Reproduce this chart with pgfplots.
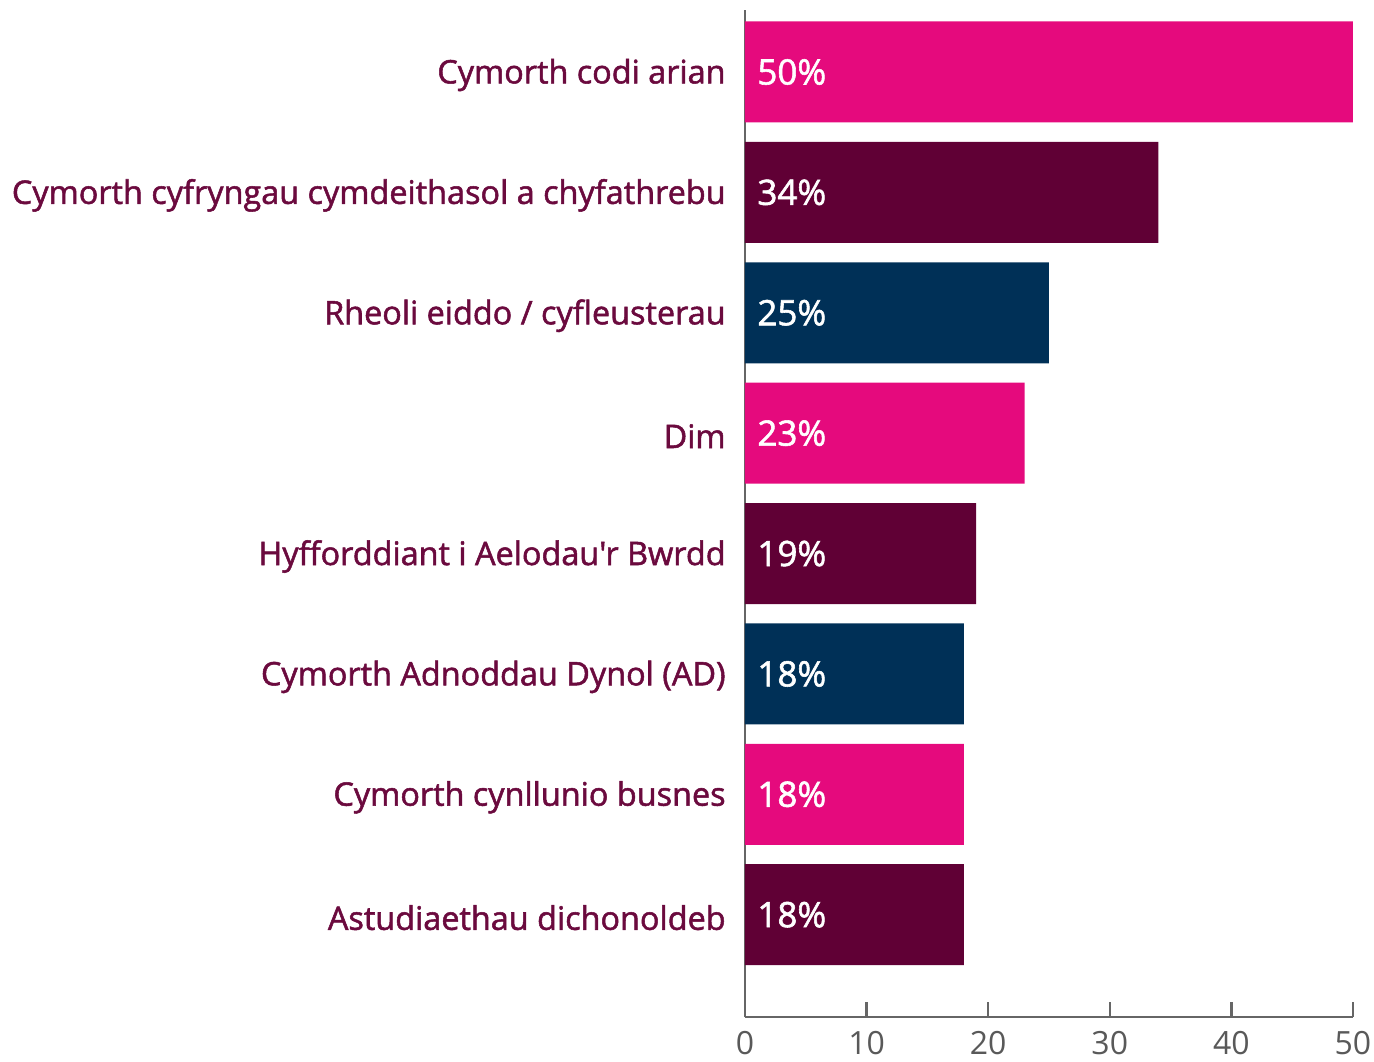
\documentclass[border=0pt]{standalone}
\usepackage{fontspec}
\setmainfont{Open Sans}
\newfontfamily\labfont{Open Sans}[FakeBold=1.6]
\usepackage{pgfplots}
\pgfplotsset{compat=1.18}
\definecolor{cpink}{HTML}{E50A7D}
\definecolor{cmaroon}{HTML}{600035}
\definecolor{cnavy}{HTML}{003057}
\definecolor{labcol}{HTML}{6B0A3E}
\definecolor{axgrey}{HTML}{666666}
\definecolor{tickgrey}{HTML}{595959}
\begin{document}
\begin{tikzpicture}
\useasboundingbox (-372.5pt,-22pt) rectangle (314.5pt,508.5pt);
\begin{axis}[
  at={(0,0)}, anchor=south west,
  scale only axis, width=304pt, height=503.5pt,
  xbar, bar width=50.5pt, bar shift=0pt,
  xmin=0, xmax=50, ymin=0.15, ymax=8.515,
  axis x line*=bottom, axis y line*=left,
  axis line style={draw=axgrey, line width=1.25pt},
  xtick={0,10,20,30,40,50},
  tick align=inside, major tick length=7.5pt,
  xtick style={draw=axgrey, line width=1.25pt},
  ytick={1,2,3,4,5,6,7,8},
  ytick style={draw=none},
  yticklabels={Astudiaethau dichonoldeb, Cymorth cynllunio busnes, Cymorth Adnoddau Dynol (AD), Hyfforddiant i Aelodau'r Bwrdd, Dim, Rheoli eiddo / cyfleusterau, Cymorth cyfryngau cymdeithasol a chyfathrebu, Cymorth codi arian},
  yticklabel style={font=\labfont\fontsize{16.2}{19}\selectfont, text=labcol, inner sep=0pt, anchor=east, xshift=-9.5pt, yshift=-1.5pt},
  xticklabel style={font=\fontsize{16}{19}\selectfont, text=tickgrey, inner sep=0pt, anchor=north, yshift=-7pt},
  /pgf/number format/assume math mode=true,
  clip=false,
]
\addplot[draw=none, fill=cpink] coordinates {(50,8) (23,5) (18,2)};
\addplot[draw=none, fill=cmaroon] coordinates {(34,7) (19,4) (18,1)};
\addplot[draw=none, fill=cnavy] coordinates {(25,6) (18,3)};
\addplot[draw=none, fill=none, nodes near coords, point meta=explicit symbolic,
  nodes near coords style={anchor=west, inner sep=0pt, xshift=6pt, text=white, font=\labfont\fontsize{17.5}{20}\selectfont}]
  coordinates {(0,8)[50\%] (0,7)[34\%] (0,6)[25\%] (0,5)[23\%] (0,4)[19\%] (0,3)[18\%] (0,2)[18\%] (0,1)[18\%]};
\end{axis}
\end{tikzpicture}
\end{document}
